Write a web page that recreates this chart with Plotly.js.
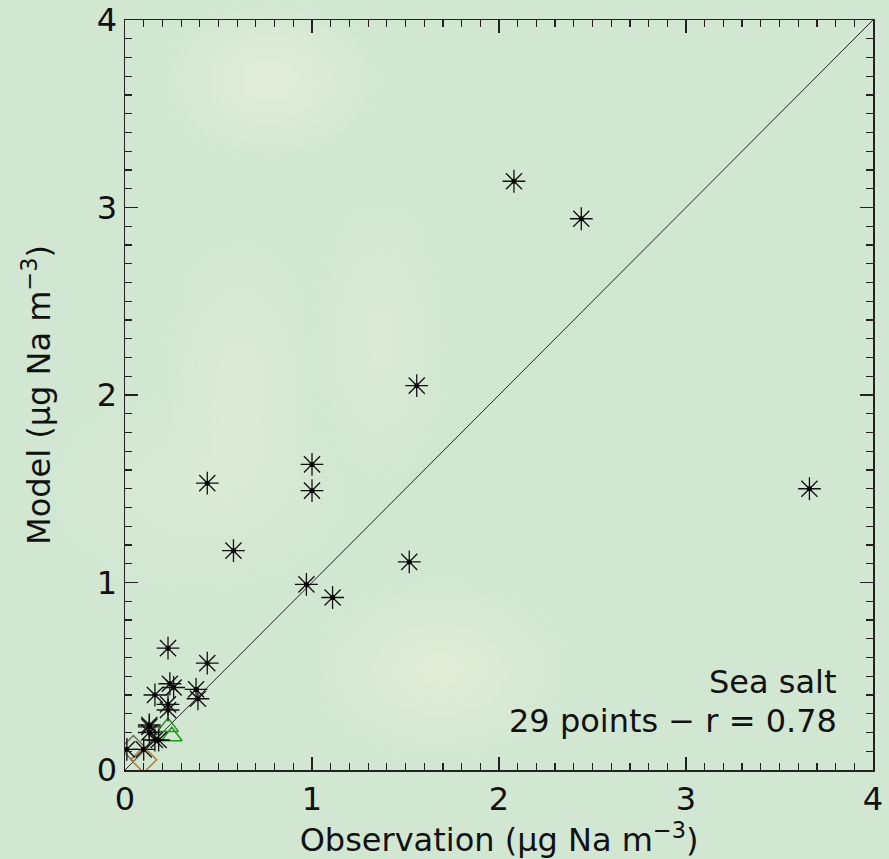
<!DOCTYPE html>
<html><head><meta charset="utf-8">
<script src="https://cdn.plot.ly/plotly-3.0.1.min.js"></script>
<style>
html,body{margin:0;padding:0;}
#wrap{width:889px;height:859px;position:relative;
background:
radial-gradient(ellipse 110px 80px at 270px 80px, rgba(232,240,220,0.8), rgba(232,240,220,0)),
radial-gradient(ellipse 80px 150px at 240px 390px, rgba(226,237,216,0.7), rgba(226,237,216,0)),
radial-gradient(ellipse 70px 140px at 380px 340px, rgba(226,237,216,0.6), rgba(226,237,216,0)),
radial-gradient(ellipse 130px 90px at 440px 670px, rgba(230,239,218,0.8), rgba(230,239,218,0)),
radial-gradient(ellipse 150px 100px at 200px 490px, rgba(224,236,214,0.5), rgba(224,236,214,0)),
#d2e7d1;}
#chart{width:889px;height:859px;}
</style>
</head><body>
<div id="wrap"><div id="chart"></div></div>
<script>
// Stars (main series)
const starObs = [2.08, 2.44, 1.56, 1.00, 1.00, 0.44, 0.58, 3.66, 1.52, 0.97, 1.11,
                 0.23, 0.44, 0.24, 0.26, 0.16, 0.38, 0.39, 0.23, 0.23, 0.13, 0.13, 0.13, 0.16, 0.18, 0.10, 0.01];
const starMod = [3.14, 2.94, 2.05, 1.63, 1.49, 1.53, 1.17, 1.50, 1.11, 0.99, 0.92,
                 0.65, 0.57, 0.46, 0.44, 0.40, 0.43, 0.38, 0.35, 0.32, 0.24, 0.23, 0.20, 0.16, 0.16, 0.11, 0.11];
// Green triangles
const triObs = [0.23, 0.25];
const triMod = [0.23, 0.18];
// Diamonds
const diaObs = [0.045, 0.10];
const diaMod = [0.115, 0.055];
const diaColors = ['#707060', '#b07a3a'];
// 1:1 line
const lineX = [0, 4];
const lineY = [0, 4];
const tickVals = [0, 1, 2, 3, 4];
const tickText = ['0', '1', '2', '3', '4'];

const font = {family: 'DejaVu Sans, Verdana, sans-serif', size: 32, color: '#111'};

const traces = [
  {x: lineX, y: lineY, mode: 'lines', line: {color: '#222', width: 1}, hoverinfo: 'skip'},
  {x: diaObs, y: diaMod, mode: 'markers', marker: {symbol: 'diamond-open', size: 20, color: diaColors, line: {width: 1.5, color: diaColors}}},
  {x: triObs, y: triMod, mode: 'markers', marker: {symbol: 'triangle-up-open', size: 18, color: '#1a9a1a', line: {width: 1.5}}},
  {x: starObs, y: starMod, mode: 'markers', marker: {symbol: 'asterisk-open', size: 19, color: '#111', line: {width: 1.3, color: '#111'}}},
  {x: starObs, y: starMod, mode: 'markers', marker: {symbol: 'circle', size: 5, color: '#000'}}
];

const axisBase = {
  range: [0, 4], tickvals: tickVals, ticktext: tickText, ticks: 'inside', ticklen: 13, tickwidth: 1.3, tickcolor: '#222',
  showline: true, linecolor: '#222', linewidth: 1.5, mirror: 'allticks', showgrid: false, zeroline: false,
  minor: {dtick: 0.1, ticks: 'inside', ticklen: 7, tickwidth: 1.2, tickcolor: '#222', showgrid: false},
  tickfont: font, automargin: false, fixedrange: true
};

const layout = {
  width: 889, height: 859,
  margin: {l: 125, r: 16, t: 20, b: 89},
  paper_bgcolor: 'rgba(0,0,0,0)', plot_bgcolor: 'rgba(0,0,0,0)',
  showlegend: false,
  xaxis: Object.assign({}, axisBase, {title: {text: 'Observation (µg Na m<sup>−3</sup>)', font: font, standoff: 0}}),
  yaxis: Object.assign({}, axisBase, {title: {text: 'Model (µg Na m<sup>−3</sup>)', font: font, standoff: 36}}),
  annotations: [
    {xref: 'paper', yref: 'paper', x: 0.955, y: 0.117, xanchor: 'right', yanchor: 'middle', showarrow: false, text: 'Sea salt', font: font},
    {xref: 'paper', yref: 'paper', x: 0.955, y: 0.065, xanchor: 'right', yanchor: 'middle', showarrow: false, text: '29 points − r = 0.78', font: font}
  ]
};

Plotly.newPlot('chart', traces, layout, {displayModeBar: false, staticPlot: true});
</script>
</body></html>
